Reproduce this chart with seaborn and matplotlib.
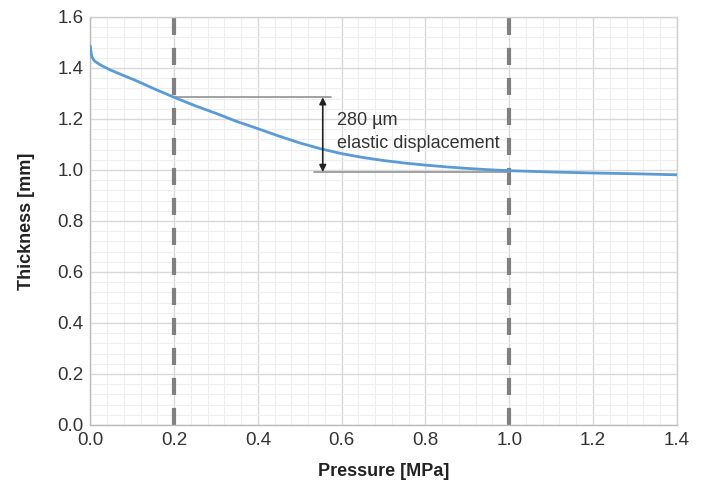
import numpy as np
import pandas as pd
import matplotlib
matplotlib.use('Agg')
import matplotlib.pyplot as plt
from matplotlib.ticker import MultipleLocator, FormatStrFormatter
import seaborn as sns

# Data
pressure = [0.0, 0.002, 0.004, 0.008, 0.012, 0.024, 0.048, 0.083, 0.107, 0.15, 0.2,
            0.25, 0.3, 0.35, 0.4, 0.45, 0.5, 0.55, 0.6, 0.65, 0.7, 0.75, 0.8, 0.85,
            0.9, 0.95, 1.0, 1.1, 1.2, 1.3, 1.4]
thickness = [1.486, 1.46, 1.444, 1.432, 1.425, 1.412, 1.392, 1.368, 1.352, 1.32, 1.285,
             1.252, 1.222, 1.19, 1.162, 1.133, 1.106, 1.083, 1.064, 1.049, 1.037, 1.027, 1.019, 1.012,
             1.006, 1.001, 0.997, 0.992, 0.988, 0.985, 0.981]
marker_pressures = [0.2, 1.0]
upper_level = 1.285
lower_level = 0.992
note = '280 µm\nelastic displacement'

df = pd.DataFrame({'Pressure [MPa]': pressure, 'Thickness [mm]': thickness})

sns.set_style('white')
plt.rcParams['font.family'] = ['Liberation Sans', 'DejaVu Sans']

fig = plt.figure(figsize=(7.05, 4.84), dpi=100)
ax = fig.add_axes([0.128, 0.122, 0.832, 0.843])

# grid
ax.xaxis.set_major_locator(MultipleLocator(0.2))
ax.yaxis.set_major_locator(MultipleLocator(0.2))
ax.xaxis.set_minor_locator(MultipleLocator(0.04))
ax.yaxis.set_minor_locator(MultipleLocator(0.04))
ax.grid(which='major', color='#d9d9d9', linewidth=1.0, zorder=0)
ax.grid(which='minor', color='#eeeeee', linewidth=0.8, zorder=0)
ax.set_axisbelow(True)

# dashed markers
for p in marker_pressures:
    ax.axvline(p, color='#808080', linewidth=3, dashes=(4.1, 3.1), zorder=2)

# annotation guide lines
ax.plot([0.2, 0.575], [upper_level, upper_level], color='#9a9a9a', linewidth=1.3, zorder=2)
ax.plot([0.535, 1.0], [lower_level, lower_level], color='#9a9a9a', linewidth=1.3, zorder=2)
ax.annotate('', xy=(0.555, lower_level), xytext=(0.555, upper_level),
            arrowprops=dict(arrowstyle='<|-|>', color='#222222', lw=1.2,
                            mutation_scale=10, shrinkA=0, shrinkB=0), zorder=4)
ax.text(0.59, 1.148, note, fontsize=13, color='#333333', va='center', ha='left',
        linespacing=1.5, zorder=4)

sns.lineplot(data=df, x='Pressure [MPa]', y='Thickness [mm]', ax=ax,
             color='#5b9bd5', linewidth=2.0, zorder=3)

ax.set_xlim(0, 1.4)
ax.set_ylim(0, 1.6)
ax.xaxis.set_major_formatter(FormatStrFormatter('%.1f'))
ax.yaxis.set_major_formatter(FormatStrFormatter('%.1f'))
ax.tick_params(axis='both', which='both', length=0, labelsize=13.5, colors='#333333', pad=5)
ax.set_xlabel('Pressure [MPa]', fontsize=13, fontweight='bold', color='#222222', labelpad=10)
ax.set_ylabel('Thickness [mm]', fontsize=13, fontweight='bold', color='#222222', labelpad=16)

for s in ax.spines.values():
    s.set_color('#d0d0d0')
    s.set_linewidth(1.0)
ax.spines['left'].set_color('#bbbbbb')
ax.spines['bottom'].set_color('#bbbbbb')

fig.savefig('out.png', dpi=100)
